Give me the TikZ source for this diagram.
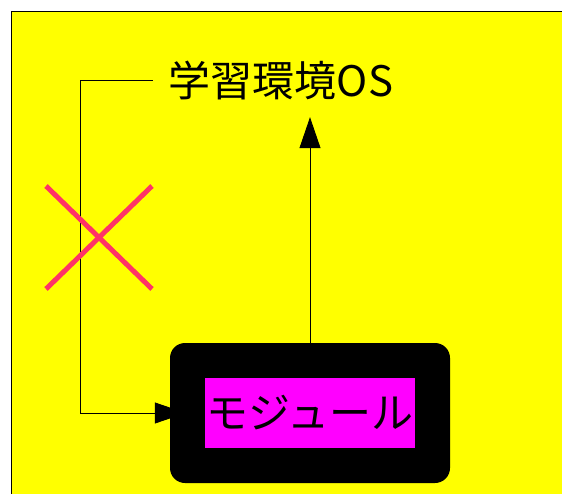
\documentclass[tikz,border=0pt]{standalone}
\usepackage{fontspec}
\newfontfamily\cjk{Noto Sans CJK JP}
\usetikzlibrary{arrows.meta}
\pgfdeclarelayer{bg}
\pgfdeclarelayer{conn}
\pgfsetlayers{bg,conn,main}
\definecolor{crossred}{HTML}{FF3366}
\definecolor{bgyellow}{HTML}{FFFF00}
\definecolor{boxmagenta}{HTML}{FF00FF}
\tikzset{
  titlenode/.style={minimum width=256, minimum height=74, inner sep=0pt, font=\cjk\fontsize{42}{46}\selectfont},
  outerbox/.style={fill=black, rounded corners=15pt, minimum width=280, minimum height=140, inner sep=0pt},
  innerbox/.style={fill=boxmagenta, minimum width=210, minimum height=70, inner sep=0pt, font=\cjk\fontsize{42}{46}\selectfont},
  connector/.style={draw=black, line width=0.8pt, -{Triangle[width=21pt,length=31pt]}},
  crossline/.style={draw=crossred, line width=5pt},
}
\begin{document}
\begin{tikzpicture}[x=1pt,y=-1pt]
\useasboundingbox (0,0) rectangle (562,493);
\begin{pgfonlayer}{bg}
\draw[fill=bgyellow, line width=1pt] (11,11) rectangle (565,496);
\end{pgfonlayer}
\node[titlenode] (t) at (281,80) {学習環境OS};
\node[outerbox] (m) at (310,413) {};
\node[innerbox] (mt) at (m.center) {モジュール};
\draw[crossline] (46,186) -- (152,289);
\draw[crossline] (152,186) -- (46,289);
\begin{pgfonlayer}{conn}
\draw[connector] (m.north) -- (m.north |- t.south);
\draw[connector] (t.west) -- ++(-72,0) |- ([xshift=16]m.west);
\end{pgfonlayer}
\end{tikzpicture}
\end{document}
